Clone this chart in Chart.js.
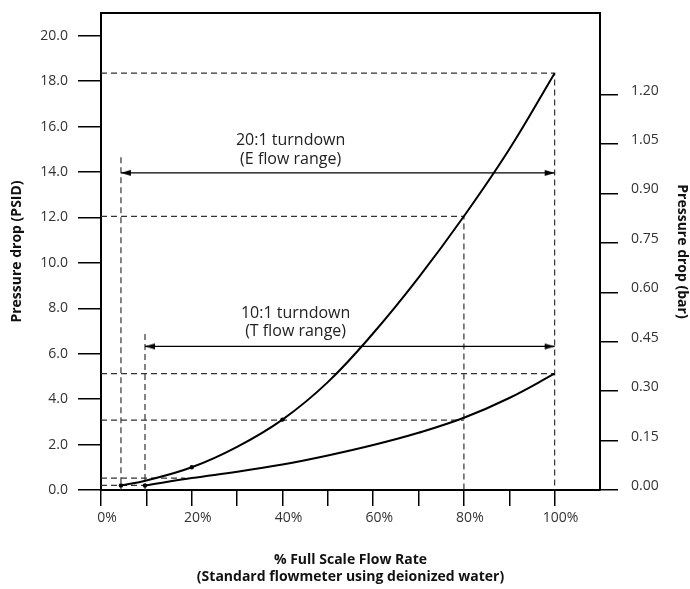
<!DOCTYPE html>
<html>
<head>
<meta charset="utf-8">
<script src="https://cdn.jsdelivr.net/npm/chart.js@4.4.1/dist/chart.umd.min.js"></script>
<style>
  html, body { margin: 0; padding: 0; background: #fff; }
  #wrap { width: 690px; height: 589px; }
</style>
</head>
<body>
<div id="wrap"><canvas id="flow_chart"></canvas></div>
<script>
// axis ticks
const flowTicks = [0, 10, 20, 30, 40, 50, 60, 70, 80, 90, 100];
const psidTicks = [0, 2, 4, 6, 8, 10, 12, 14, 16, 18, 20];
const barTicks = [0, 0.15, 0.30, 0.45, 0.60, 0.75, 0.90, 1.05, 1.20];
const flowMax = 110;
const psidMax = 21;
const barPerPsid = 0.0689476;

// E flow range curve
const flowE = [4.4, 10, 20, 30, 40, 50, 60, 70, 80, 90, 100];
const psidE = [0.2, 0.42, 1.0, 1.9, 3.1, 4.75, 6.9, 9.35, 12.05, 15.0, 18.35];
const dotsE = [1, 0, 1, 0, 1, 0, 0, 0, 0, 0, 0];

// T flow range curve
const flowT = [9.7, 20, 30, 40, 50, 60, 70, 80, 90, 100];
const psidT = [0.2, 0.53, 0.8, 1.12, 1.52, 1.98, 2.52, 3.18, 4.05, 5.12];
const dotsT = [1, 0, 0, 0, 0, 0, 0, 0, 0, 0];

// dashed guide lines
const guideFlow = [[0, 100, 100], [0, 80, 80], [0, 100], [0, 80], [0, 18.5], [0, 9.7], [4.4, 4.4], [9.7, 9.7]];
const guidePsid = [[18.35, 18.35, 0], [12.05, 12.05, 0], [5.12, 5.12], [3.08, 3.08], [0.52, 0.52], [0.2, 0.2], [14.65, 0], [6.87, 0]];

// turndown arrows
const arrowFlow = [[4.4, 100], [9.7, 100]];
const arrowPsid = [13.96, 6.32];

// notes
const noteText = [['20:1 turndown', '(E flow range)'], ['10:1 turndown', '(T flow range)']];
const noteFlow = [41.8, 42.9];
const notePsid = [15.38, 7.78];

const toPoints = (xs, ys) => xs.map((x, i) => ({x: x, y: ys[i]}));

function arrowHead() {
    const c = document.createElement('canvas');
    c.width = 22;
    c.height = 8;
    const g = c.getContext('2d');
    g.fillStyle = '#000';
    g.beginPath();
    g.moveTo(11, 4);
    g.lineTo(1, 1);
    g.lineTo(1, 7);
    g.closePath();
    g.fill();
    return c;
}
const head = arrowHead();

const datasets = [
    {
        data: toPoints(flowE, psidE),
        borderColor: '#000',
        borderWidth: 2,
        tension: 0.4,
        pointRadius: dotsE.map(d => d ? 2.2 : 0),
        pointBackgroundColor: '#000',
        pointBorderWidth: 0
    },
    {
        data: toPoints(flowT, psidT),
        borderColor: '#000',
        borderWidth: 2,
        tension: 0.4,
        pointRadius: dotsT.map(d => d ? 2.2 : 0),
        pointBackgroundColor: '#000',
        pointBorderWidth: 0
    }
];

arrowFlow.forEach((xs, i) => {
    datasets.push({
        data: toPoints(xs, [arrowPsid[i], arrowPsid[i]]),
        borderColor: '#000',
        borderWidth: 1.2,
        pointStyle: head,
        pointRadius: 3,
        pointRotation: [180, 0]
    });
});

guideFlow.forEach((xs, i) => {
    datasets.push({
        data: toPoints(xs, guidePsid[i]),
        borderColor: '#333',
        borderWidth: 1.2,
        borderDash: [6, 4],
        pointRadius: 0
    });
});

const notesPlugin = {
    id: 'notes',
    afterDatasetsDraw(chart) {
        const {ctx, scales: {x, y}} = chart;
        ctx.save();
        ctx.font = '16px "Open Sans"';
        ctx.fillStyle = '#222';
        ctx.textAlign = 'center';
        ctx.textBaseline = 'middle';
        noteText.forEach((lines, i) => {
            const px = x.getPixelForValue(noteFlow[i]);
            const py = y.getPixelForValue(notePsid[i]);
            lines.forEach((t, j) => ctx.fillText(t, px, py + j * 18.5));
        });
        ctx.restore();
    }
};

// fixed axis sizes so the plot frame sits where the original one does
const sizeX = h => s => { s.height = h; s.paddingLeft = 0; s.paddingRight = 0; };
const sizeY = w => s => { s.width = w; s.paddingTop = 0; s.paddingBottom = 0; };

Chart.defaults.font.family = '"Open Sans", sans-serif';
Chart.defaults.color = '#333';

new Chart(document.getElementById('flow_chart'), {
    type: 'line',
    data: {datasets: datasets},
    plugins: [notesPlugin],
    options: {
        responsive: true,
        maintainAspectRatio: false,
        animation: false,
        layout: {padding: 0},
        plugins: {
            legend: {display: false},
            tooltip: {enabled: false}
        },
        scales: {
            x: {
                type: 'linear',
                position: 'bottom',
                min: 0,
                max: flowMax,
                afterBuildTicks: s => { s.ticks = flowTicks.map(v => ({value: v})); },
                afterFit: sizeX(99),
                ticks: {
                    autoSkip: false,
                    maxRotation: 0,
                    padding: 4,
                    labelOffset: 6,
                    font: {size: 14},
                    callback: v => v % 20 === 0 ? v + '%' : ''
                },
                grid: {drawOnChartArea: false, tickLength: 16, color: '#000', lineWidth: 1.5},
                border: {color: '#000', width: 2},
                title: {
                    display: true,
                    text: ['% Full Scale Flow Rate', '(Standard flowmeter using deionized water)'],
                    color: '#111',
                    font: {size: 14, weight: 'bold', lineHeight: 1.25},
                    padding: {top: 0, bottom: 3}
                }
            },
            x2: {
                type: 'linear',
                position: 'top',
                min: 0,
                max: flowMax,
                afterFit: sizeX(13),
                ticks: {display: false},
                grid: {display: false},
                border: {color: '#000', width: 2}
            },
            y: {
                type: 'linear',
                position: 'left',
                min: 0,
                max: psidMax,
                afterBuildTicks: s => { s.ticks = psidTicks.map(v => ({value: v})); },
                afterFit: sizeY(101),
                ticks: {
                    padding: 10,
                    font: {size: 14},
                    callback: v => v.toFixed(1)
                },
                grid: {drawOnChartArea: false, tickLength: 23, color: '#000', lineWidth: 1.5},
                border: {color: '#000', width: 2},
                title: {
                    display: true,
                    text: 'Pressure drop (PSID)',
                    color: '#111',
                    font: {size: 14, weight: 'bold'},
                    padding: {top: 9, bottom: 0}
                }
            },
            y2: {
                type: 'linear',
                position: 'right',
                min: 0,
                max: psidMax * barPerPsid,
                afterBuildTicks: s => { s.ticks = barTicks.map(v => ({value: v})); },
                afterFit: sizeY(90),
                ticks: {
                    padding: 13,
                    labelOffset: -4,
                    font: {size: 14},
                    callback: v => v.toFixed(2)
                },
                grid: {drawOnChartArea: false, tickLength: 18, color: '#000', lineWidth: 1.5},
                border: {color: '#000', width: 2},
                title: {
                    display: true,
                    text: 'Pressure drop (bar)',
                    color: '#111',
                    font: {size: 14, weight: 'bold'},
                    padding: {top: 0, bottom: 0}
                }
            }
        }
    }
});
</script>
</body>
</html>
